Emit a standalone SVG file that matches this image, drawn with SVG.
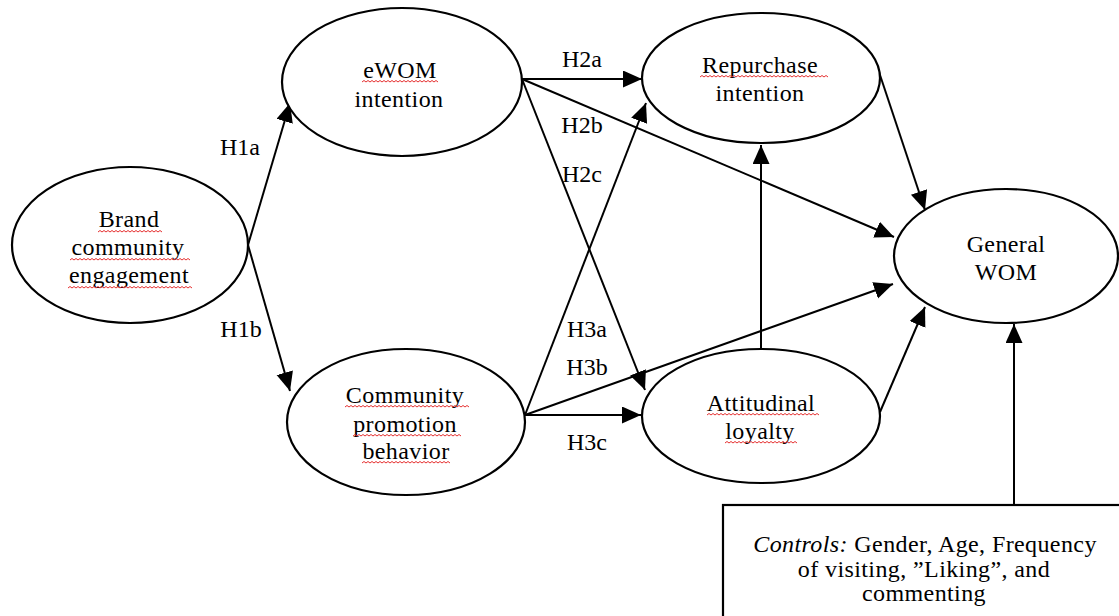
<svg xmlns="http://www.w3.org/2000/svg" width="1119" height="616" viewBox="0 0 1119 616">
<style>
  .node ellipse, .node rect { fill: #fff; stroke: #000; stroke-width: 2.2; }
  .t { font-size: 24px; fill: #000; text-anchor: middle; letter-spacing: 0.4px; }
  .lbl { font-size: 24px; fill: #000; text-anchor: middle; }
  .conn line { stroke: #000; stroke-width: 2; marker-end: url(#arr); }
  .sq { fill: none; stroke: #e53030; stroke-width: 1; }
</style>
<defs>
  <marker id="arr" markerUnits="userSpaceOnUse" markerWidth="20" markerHeight="18" refX="19" refY="8.5" orient="auto">
    <path d="M0,0 L19,8.5 L0,17 z" fill="#000"/>
  </marker>
</defs>
<rect width="1119" height="616" fill="#fff"/>

<g id="connectors" class="conn">
  <line x1="248" y1="245" x2="290" y2="103"/>
  <line x1="248" y1="245" x2="290" y2="391"/>
  <line x1="522" y1="79" x2="642" y2="79"/>
  <line x1="522" y1="79" x2="894" y2="237"/>
  <line x1="522" y1="79" x2="645" y2="390"/>
  <line x1="525" y1="415" x2="646" y2="103"/>
  <line x1="525" y1="415" x2="893" y2="284"/>
  <line x1="525" y1="415" x2="641" y2="415"/>
  <line x1="761" y1="349" x2="761" y2="145"/>
  <line x1="879" y1="72" x2="925" y2="210"/>
  <line x1="880" y1="412" x2="925" y2="307"/>
  <line x1="1014" y1="505" x2="1014" y2="324"/>
</g>

<g font-family="Liberation Serif, Times New Roman, DejaVu Serif, serif">
<g id="labels">
  <text class="lbl" x="240" y="155">H1a</text>
  <text class="lbl" x="241" y="337">H1b</text>
  <text class="lbl" x="582" y="67">H2a</text>
  <text class="lbl" x="582" y="133">H2b</text>
  <text class="lbl" x="582" y="182">H2c</text>
  <text class="lbl" x="587" y="337">H3a</text>
  <text class="lbl" x="587" y="375">H3b</text>
  <text class="lbl" x="587" y="450">H3c</text>
</g>

<g id="brand-community-engagement" class="node">
  <ellipse cx="130" cy="245" rx="118" ry="78"/>
  <text class="t" x="129" y="227">Brand</text>
  <text class="t" x="128" y="255">community</text>
  <text class="t" x="129" y="283">engagement</text>
  <path class="sq" d="M98,232 l2,-1.5 l2,1.5 l2,-1.5 l2,1.5 l2,-1.5 l2,1.5 l2,-1.5 l2,1.5 l2,-1.5 l2,1.5 l2,-1.5 l2,1.5 l2,-1.5 l2,1.5 l2,-1.5 l2,1.5 l2,-1.5 l2,1.5 l2,-1.5 l2,1.5 l2,-1.5 l2,1.5 l2,-1.5 l2,1.5 l2,-1.5 l2,1.5 l2,-1.5 l2,1.5 l2,-1.5 l2,1.5 l2,-1.5 l2,1.5"/>
  <path class="sq" d="M70,260 l2,-1.5 l2,1.5 l2,-1.5 l2,1.5 l2,-1.5 l2,1.5 l2,-1.5 l2,1.5 l2,-1.5 l2,1.5 l2,-1.5 l2,1.5 l2,-1.5 l2,1.5 l2,-1.5 l2,1.5 l2,-1.5 l2,1.5 l2,-1.5 l2,1.5 l2,-1.5 l2,1.5 l2,-1.5 l2,1.5 l2,-1.5 l2,1.5 l2,-1.5 l2,1.5 l2,-1.5 l2,1.5 l2,-1.5 l2,1.5 l2,-1.5 l2,1.5 l2,-1.5 l2,1.5 l2,-1.5 l2,1.5 l2,-1.5 l2,1.5 l2,-1.5 l2,1.5 l2,-1.5 l2,1.5 l2,-1.5 l2,1.5 l2,-1.5 l2,1.5 l2,-1.5 l2,1.5 l2,-1.5 l2,1.5 l2,-1.5 l2,1.5 l2,-1.5 l2,1.5 l2,-1.5 l2,1.5 l2,-1.5 l2,1.5"/>
  <path class="sq" d="M68,288 l2,-1.5 l2,1.5 l2,-1.5 l2,1.5 l2,-1.5 l2,1.5 l2,-1.5 l2,1.5 l2,-1.5 l2,1.5 l2,-1.5 l2,1.5 l2,-1.5 l2,1.5 l2,-1.5 l2,1.5 l2,-1.5 l2,1.5 l2,-1.5 l2,1.5 l2,-1.5 l2,1.5 l2,-1.5 l2,1.5 l2,-1.5 l2,1.5 l2,-1.5 l2,1.5 l2,-1.5 l2,1.5 l2,-1.5 l2,1.5 l2,-1.5 l2,1.5 l2,-1.5 l2,1.5 l2,-1.5 l2,1.5 l2,-1.5 l2,1.5 l2,-1.5 l2,1.5 l2,-1.5 l2,1.5 l2,-1.5 l2,1.5 l2,-1.5 l2,1.5 l2,-1.5 l2,1.5 l2,-1.5 l2,1.5 l2,-1.5 l2,1.5 l2,-1.5 l2,1.5 l2,-1.5 l2,1.5 l2,-1.5 l2,1.5 l2,-1.5 l2,1.5"/>
</g>

<g id="ewom-intention" class="node">
  <ellipse cx="402" cy="82" rx="120" ry="74"/>
  <text class="t" x="400" y="78">eWOM</text>
  <text class="t" x="399" y="107">intention</text>
  <path class="sq" d="M362,82 l2,-1.5 l2,1.5 l2,-1.5 l2,1.5 l2,-1.5 l2,1.5 l2,-1.5 l2,1.5 l2,-1.5 l2,1.5 l2,-1.5 l2,1.5 l2,-1.5 l2,1.5 l2,-1.5 l2,1.5 l2,-1.5 l2,1.5 l2,-1.5 l2,1.5 l2,-1.5 l2,1.5 l2,-1.5 l2,1.5 l2,-1.5 l2,1.5 l2,-1.5 l2,1.5 l2,-1.5 l2,1.5 l2,-1.5 l2,1.5 l2,-1.5 l2,1.5 l2,-1.5 l2,1.5 l2,-1.5 l2,1.5"/>
</g>

<g id="community-promotion-behavior" class="node">
  <ellipse cx="406" cy="422" rx="119" ry="73"/>
  <text class="t" x="405" y="403">Community</text>
  <text class="t" x="405" y="432">promotion</text>
  <text class="t" x="406" y="459">behavior</text>
  <path class="sq" d="M345,407 l2,-1.5 l2,1.5 l2,-1.5 l2,1.5 l2,-1.5 l2,1.5 l2,-1.5 l2,1.5 l2,-1.5 l2,1.5 l2,-1.5 l2,1.5 l2,-1.5 l2,1.5 l2,-1.5 l2,1.5 l2,-1.5 l2,1.5 l2,-1.5 l2,1.5 l2,-1.5 l2,1.5 l2,-1.5 l2,1.5 l2,-1.5 l2,1.5 l2,-1.5 l2,1.5 l2,-1.5 l2,1.5 l2,-1.5 l2,1.5 l2,-1.5 l2,1.5 l2,-1.5 l2,1.5 l2,-1.5 l2,1.5 l2,-1.5 l2,1.5 l2,-1.5 l2,1.5 l2,-1.5 l2,1.5 l2,-1.5 l2,1.5 l2,-1.5 l2,1.5 l2,-1.5 l2,1.5 l2,-1.5 l2,1.5 l2,-1.5 l2,1.5 l2,-1.5 l2,1.5 l2,-1.5 l2,1.5 l2,-1.5 l2,1.5 l2,-1.5 l2,1.5"/>
  <path class="sq" d="M353,436 l2,-1.5 l2,1.5 l2,-1.5 l2,1.5 l2,-1.5 l2,1.5 l2,-1.5 l2,1.5 l2,-1.5 l2,1.5 l2,-1.5 l2,1.5 l2,-1.5 l2,1.5 l2,-1.5 l2,1.5 l2,-1.5 l2,1.5 l2,-1.5 l2,1.5 l2,-1.5 l2,1.5 l2,-1.5 l2,1.5 l2,-1.5 l2,1.5 l2,-1.5 l2,1.5 l2,-1.5 l2,1.5 l2,-1.5 l2,1.5 l2,-1.5 l2,1.5 l2,-1.5 l2,1.5 l2,-1.5 l2,1.5 l2,-1.5 l2,1.5 l2,-1.5 l2,1.5 l2,-1.5 l2,1.5 l2,-1.5 l2,1.5 l2,-1.5 l2,1.5 l2,-1.5 l2,1.5 l2,-1.5 l2,1.5 l2,-1.5 l2,1.5"/>
  <path class="sq" d="M362,463 l2,-1.5 l2,1.5 l2,-1.5 l2,1.5 l2,-1.5 l2,1.5 l2,-1.5 l2,1.5 l2,-1.5 l2,1.5 l2,-1.5 l2,1.5 l2,-1.5 l2,1.5 l2,-1.5 l2,1.5 l2,-1.5 l2,1.5 l2,-1.5 l2,1.5 l2,-1.5 l2,1.5 l2,-1.5 l2,1.5 l2,-1.5 l2,1.5 l2,-1.5 l2,1.5 l2,-1.5 l2,1.5 l2,-1.5 l2,1.5 l2,-1.5 l2,1.5 l2,-1.5 l2,1.5 l2,-1.5 l2,1.5 l2,-1.5 l2,1.5 l2,-1.5 l2,1.5 l2,-1.5 l2,1.5"/>
</g>

<g id="repurchase-intention" class="node">
  <ellipse cx="761" cy="78" rx="119" ry="65"/>
  <text class="t" x="760" y="73">Repurchase</text>
  <text class="t" x="760" y="101">intention</text>
  <path class="sq" d="M700,77 l2,-1.5 l2,1.5 l2,-1.5 l2,1.5 l2,-1.5 l2,1.5 l2,-1.5 l2,1.5 l2,-1.5 l2,1.5 l2,-1.5 l2,1.5 l2,-1.5 l2,1.5 l2,-1.5 l2,1.5 l2,-1.5 l2,1.5 l2,-1.5 l2,1.5 l2,-1.5 l2,1.5 l2,-1.5 l2,1.5 l2,-1.5 l2,1.5 l2,-1.5 l2,1.5 l2,-1.5 l2,1.5 l2,-1.5 l2,1.5 l2,-1.5 l2,1.5 l2,-1.5 l2,1.5 l2,-1.5 l2,1.5 l2,-1.5 l2,1.5 l2,-1.5 l2,1.5 l2,-1.5 l2,1.5 l2,-1.5 l2,1.5 l2,-1.5 l2,1.5 l2,-1.5 l2,1.5 l2,-1.5 l2,1.5 l2,-1.5 l2,1.5 l2,-1.5 l2,1.5 l2,-1.5 l2,1.5 l2,-1.5 l2,1.5 l2,-1.5 l2,1.5 l2,-1.5 l2,1.5"/>
</g>

<g id="attitudinal-loyalty" class="node">
  <ellipse cx="761" cy="416" rx="119" ry="67"/>
  <text class="t" x="761" y="411">Attitudinal</text>
  <text class="t" x="760" y="439">loyalty</text>
  <path class="sq" d="M707,415 l2,-1.5 l2,1.5 l2,-1.5 l2,1.5 l2,-1.5 l2,1.5 l2,-1.5 l2,1.5 l2,-1.5 l2,1.5 l2,-1.5 l2,1.5 l2,-1.5 l2,1.5 l2,-1.5 l2,1.5 l2,-1.5 l2,1.5 l2,-1.5 l2,1.5 l2,-1.5 l2,1.5 l2,-1.5 l2,1.5 l2,-1.5 l2,1.5 l2,-1.5 l2,1.5 l2,-1.5 l2,1.5 l2,-1.5 l2,1.5 l2,-1.5 l2,1.5 l2,-1.5 l2,1.5 l2,-1.5 l2,1.5 l2,-1.5 l2,1.5 l2,-1.5 l2,1.5 l2,-1.5 l2,1.5 l2,-1.5 l2,1.5 l2,-1.5 l2,1.5 l2,-1.5 l2,1.5 l2,-1.5 l2,1.5 l2,-1.5 l2,1.5 l2,-1.5 l2,1.5"/>
  <path class="sq" d="M725,443 l2,-1.5 l2,1.5 l2,-1.5 l2,1.5 l2,-1.5 l2,1.5 l2,-1.5 l2,1.5 l2,-1.5 l2,1.5 l2,-1.5 l2,1.5 l2,-1.5 l2,1.5 l2,-1.5 l2,1.5 l2,-1.5 l2,1.5 l2,-1.5 l2,1.5 l2,-1.5 l2,1.5 l2,-1.5 l2,1.5 l2,-1.5 l2,1.5 l2,-1.5 l2,1.5 l2,-1.5 l2,1.5 l2,-1.5 l2,1.5 l2,-1.5 l2,1.5 l2,-1.5 l2,1.5"/>
</g>

<g id="general-wom" class="node">
  <ellipse cx="1006" cy="256" rx="112" ry="67"/>
  <text class="t" x="1006" y="252">General</text>
  <text class="t" x="1006" y="280">WOM</text>
</g>

<g id="controls" class="node">
  <rect x="723" y="505" width="404" height="120"/>
  <text class="t" x="925" y="552" font-size="23"><tspan font-style="italic">Controls:</tspan> Gender, Age, Frequency</text>
  <text class="t" x="924" y="577" font-size="23">of visiting, ”Liking”, and</text>
  <text class="t" x="924" y="601" font-size="23">commenting</text>
</g>
</g>
</svg>
